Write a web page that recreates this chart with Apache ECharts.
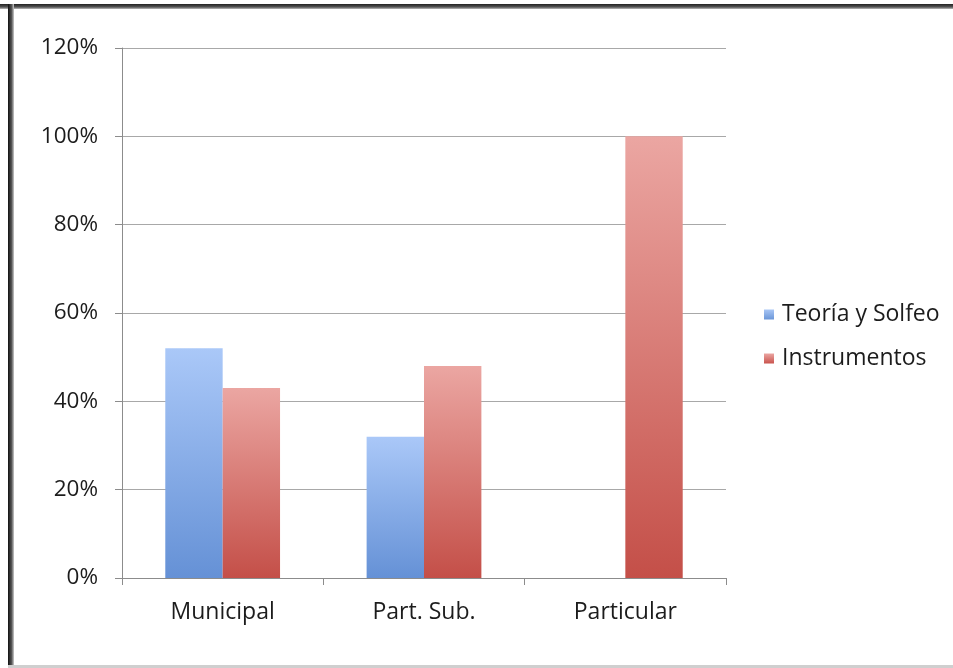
<!DOCTYPE html>
<html>
<head>
<meta charset="utf-8">
<script src="https://cdn.jsdelivr.net/npm/echarts@6/dist/echarts.min.js"></script>
<style>
  html, body { margin: 0; padding: 0; background: #fff; }
  #chart { width: 953px; height: 668px; }
</style>
</head>
<body>
<div id="chart"></div>
<script>
// Categories and series values (percent)
const categories = ['Municipal', 'Part. Sub.', 'Particular'];
const teoriaSolfeo = [52, 32, null];
const instrumentos = [43, 48, 100];
const seriesNames = ['Teoría y Solfeo', 'Instrumentos'];

const FONT = '"Open Sans", sans-serif';
const TEXT = '#1c1c1c';

function vGrad(top, bottom) {
  return new echarts.graphic.LinearGradient(0, 0, 0, 1, [
    { offset: 0, color: top },
    { offset: 1, color: bottom }
  ]);
}

const chart = echarts.init(document.getElementById('chart'), null, { renderer: 'canvas' });

chart.setOption({
  backgroundColor: '#ffffff',
  animation: false,
  graphic: [
    // picture frame: dark top and left edges, light bottom edge
    { type: 'rect', shape: { x: 0, y: 4, width: 953, height: 5 },
      style: { fill: new echarts.graphic.LinearGradient(0, 0, 0, 1, [
        { offset: 0, color: '#222' }, { offset: 0.6, color: '#555' }, { offset: 1, color: '#bbb' }]) }, z: 10 },
    { type: 'rect', shape: { x: 8, y: 4, width: 6, height: 664 },
      style: { fill: new echarts.graphic.LinearGradient(0, 0, 1, 0, [
        { offset: 0, color: '#111' }, { offset: 0.6, color: '#555' }, { offset: 1, color: '#ccc' }]) }, z: 10 },
    { type: 'rect', shape: { x: 8, y: 665, width: 945, height: 3 },
      style: { fill: '#cfcfcf' }, z: 10 }
  ],
  grid: { left: 122, right: 227, top: 48, bottom: 90, containLabel: false },
  legend: {
    orient: 'vertical',
    left: 759,
    top: 298,
    itemWidth: 10,
    itemHeight: 10,
    itemGap: 21,
    icon: 'rect',
    textStyle: { fontFamily: FONT, fontSize: 23, color: TEXT, padding: [0, 0, 0, 3] },
    data: [
      { name: seriesNames[0], itemStyle: { color: vGrad('#a9c6f5', '#6a96d8') } },
      { name: seriesNames[1], itemStyle: { color: vGrad('#eba6a2', '#c9534d') } }
    ]
  },
  xAxis: {
    type: 'category',
    data: categories,
    axisLine: { lineStyle: { color: '#8c8c8c', width: 1 } },
    axisTick: { show: true, length: 7, alignWithLabel: false, lineStyle: { color: '#8c8c8c' } },
    axisLabel: { fontFamily: FONT, fontSize: 23, color: TEXT, margin: 23 }
  },
  yAxis: {
    type: 'value',
    min: 0,
    max: 120,
    interval: 20,
    axisLine: { show: true, lineStyle: { color: '#8c8c8c', width: 1 } },
    axisTick: { show: true, length: 7, lineStyle: { color: '#8c8c8c' } },
    axisLabel: { fontFamily: FONT, fontSize: 22.5, color: TEXT, margin: 24, formatter: '{value}%' },
    splitLine: { show: true, lineStyle: { color: '#a8a8a8', width: 1 } }
  },
  series: [
    {
      name: seriesNames[0],
      type: 'bar',
      data: teoriaSolfeo,
      barGap: '0%',
      barCategoryGap: '43%',
      itemStyle: { color: vGrad('#aac8f8', '#6591d6') }
    },
    {
      name: seriesNames[1],
      type: 'bar',
      data: instrumentos,
      barGap: '0%',
      barCategoryGap: '43%',
      itemStyle: { color: vGrad('#eba6a2', '#c44f48') }
    }
  ]
});
</script>
</body>
</html>
